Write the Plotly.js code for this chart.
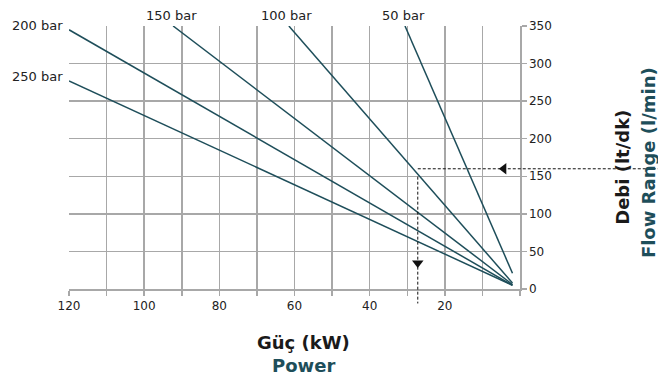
<!DOCTYPE html>
<html>
<head>
<meta charset="utf-8">
<script src="https://cdn.plot.ly/plotly-3.0.1.min.js"></script>
<style>html,body{margin:0;padding:0;background:#fff;}#chart{width:658px;height:380px;}</style>
</head>
<body>
<div id="chart"></div>
<script>
// Series: pressure curves (power kW vs flow l/min)
const pressures = ['250 bar', '200 bar', '150 bar', '100 bar', '50 bar'];
const startPower = [120, 120, 92.3, 61.5, 30.6];
const startFlow = [277, 345, 350, 350, 350];
const endPower = [2, 2, 2, 2, 2];
const endFlow = [5, 5, 6, 8, 21];

// Axis ticks
const xTickVals = [120, 110, 100, 90, 80, 70, 60, 50, 40, 30, 20, 10, 0];
const xTickText = ['120', '', '100', '', '80', '', '60', '', '40', '', '20', '', ''];
const yTickVals = [0, 50, 100, 150, 200, 250, 300, 350];

// Example reading (dashed guide)
const readFlow = 160;
const readPower = 27.2;
const arrowLeft = [4.3, 160];
const arrowDown = [27.2, 34.5];

const xRange = [120, 0];
const yRange = [0, 350];

const lineColor = '#1e4e5a';
const font = 'DejaVu Sans, Verdana, sans-serif';

const traces = pressures.map((p, i) => ({
  type: 'scatter', mode: 'lines',
  x: [startPower[i], endPower[i]],
  y: [startFlow[i], endFlow[i]],
  line: {color: lineColor, width: 1.5},
  hoverinfo: 'skip', showlegend: false
}));
traces.push({
  type: 'scatter', mode: 'markers',
  x: [arrowLeft[0]], y: [arrowLeft[1]],
  marker: {symbol: 'triangle-left', size: 10, color: '#111'},
  showlegend: false, hoverinfo: 'skip'
});
traces.push({
  type: 'scatter', mode: 'markers',
  x: [arrowDown[0]], y: [arrowDown[1]],
  marker: {symbol: 'triangle-down', size: 10, color: '#111'},
  showlegend: false, hoverinfo: 'skip'
});

function px(x) { return (x - xRange[0]) / (xRange[1] - xRange[0]); }
function py(y) { return (y - yRange[0]) / (yRange[1] - yRange[0]); }

const shapes = [
  {type: 'line', xref: 'paper', yref: 'paper', x0: px(readPower), x1: 1.31, y0: py(readFlow), y1: py(readFlow),
   line: {color: '#111', width: 1, dash: '3px,2px'}},
  {type: 'line', xref: 'paper', yref: 'paper', x0: px(readPower), x1: px(readPower), y0: py(readFlow) - 0.03, y1: -0.055,
   line: {color: '#111', width: 1, dash: '3px,2px'}}
];

const annotations = [];
pressures.forEach((p, i) => {
  if (startPower[i] >= 120) {
    annotations.push({x: startPower[i], y: startFlow[i], xref: 'x', yref: 'y', text: p, showarrow: false,
      xanchor: 'right', yanchor: 'middle', xshift: -4, yshift: 4, font: {family: font, size: 13, color: '#222'}});
  } else {
    annotations.push({x: startPower[i], y: startFlow[i], xref: 'x', yref: 'y', text: p, showarrow: false,
      xanchor: 'center', yanchor: 'bottom', xshift: -2, yshift: 1, font: {family: font, size: 13, color: '#222'}});
  }
});
annotations.push({xref: 'paper', yref: 'paper', x: 0.52, y: -0.205, text: '<b>Güç (kW)</b>', showarrow: false,
  xanchor: 'center', yanchor: 'middle', font: {family: font, size: 18, color: '#1a1a1a'}});
annotations.push({xref: 'paper', yref: 'paper', x: 0.52, y: -0.29, text: '<b>Power</b>', showarrow: false,
  xanchor: 'center', yanchor: 'middle', font: {family: font, size: 18, color: lineColor}});
annotations.push({xref: 'paper', yref: 'paper', x: 1.228, y: 0.464, text: '<b>Debi (lt/dk)</b>', showarrow: false,
  textangle: -90, xanchor: 'center', yanchor: 'middle', font: {family: font, size: 18, color: '#1a1a1a'}});
annotations.push({xref: 'paper', yref: 'paper', x: 1.284, y: 0.479, text: '<b>Flow Range (l/min)</b>', showarrow: false,
  textangle: -90, xanchor: 'center', yanchor: 'middle', font: {family: font, size: 18, color: lineColor}});

const layout = {
  width: 658, height: 380,
  margin: {l: 69, r: 138, t: 26, b: 91},
  paper_bgcolor: '#fff', plot_bgcolor: '#fff',
  showlegend: false,
  xaxis: {
    range: xRange, tickvals: xTickVals, ticktext: xTickText,
    showgrid: true, gridcolor: '#a8a8a8', gridwidth: 1.5,
    zeroline: false, showline: true, linecolor: '#a8a8a8', linewidth: 1.5,
    ticks: 'outside', ticklen: 5, tickcolor: '#a8a8a8', tickwidth: 1.5,
    tickfont: {family: font, size: 12, color: '#222'}, fixedrange: true
  },
  yaxis: {
    range: yRange, side: 'right', tickvals: yTickVals,
    showgrid: true, gridcolor: '#a8a8a8', gridwidth: 1.5,
    zeroline: false, showline: true, linecolor: '#a8a8a8', linewidth: 1.5,
    ticks: 'outside', ticklen: 5, tickcolor: '#a8a8a8', tickwidth: 1.5,
    tickfont: {family: font, size: 12, color: '#222'}, fixedrange: true
  },
  shapes: shapes,
  annotations: annotations
};

Plotly.newPlot('chart', traces, layout, {displayModeBar: false, staticPlot: true});
</script>
</body>
</html>
